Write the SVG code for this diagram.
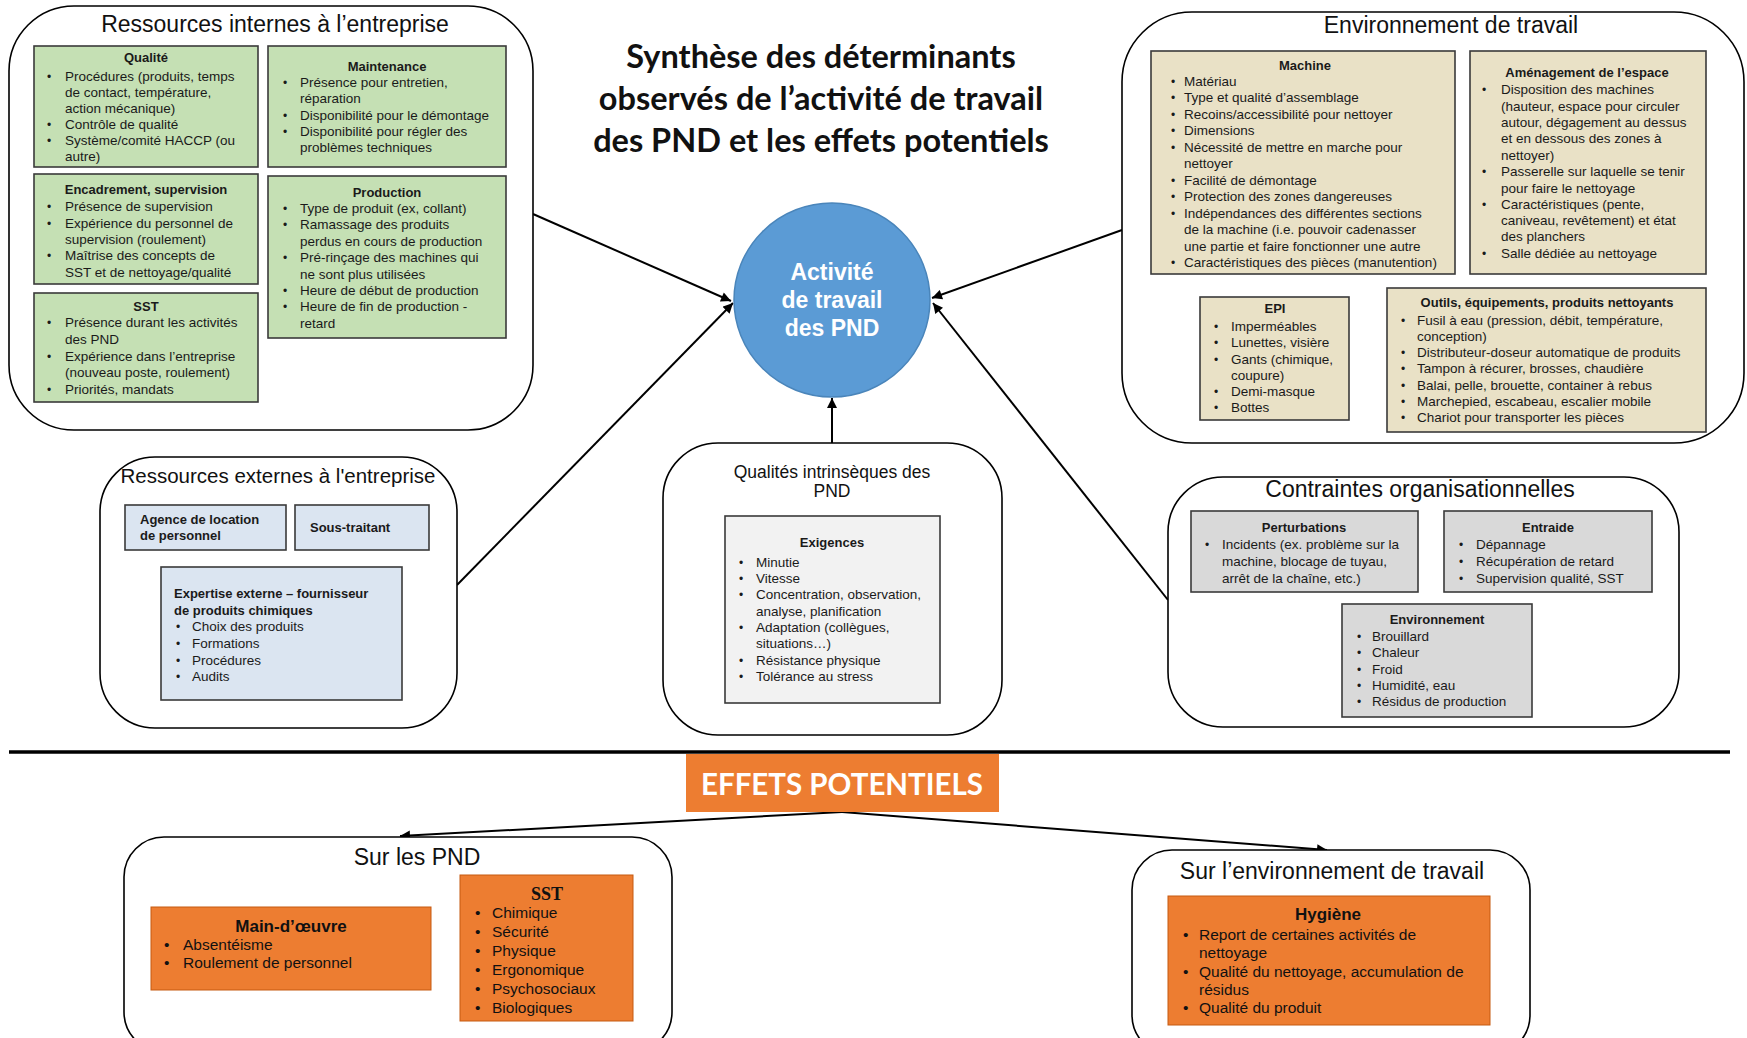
<svg xmlns="http://www.w3.org/2000/svg" width="1747" height="1038" viewBox="0 0 1747 1038">
<defs>
<marker id="ah" viewBox="0 0 10 10" refX="10" refY="5" markerWidth="11" markerHeight="10" markerUnits="userSpaceOnUse" orient="auto">
<path d="M0,0 L10,5 L0,10 z" fill="#000"/>
</marker>
<style>
text{font-family:"Liberation Sans",Arial,sans-serif;fill:#1a1a1a}
.o{fill:#fff;stroke:#000;stroke-width:1.6}
.g{fill:#c5e0b4;stroke:#3a3a3a;stroke-width:1.6}
.t{fill:#e9e1c6;stroke:#3a3a3a;stroke-width:1.6}
.b{fill:#dbe5f1;stroke:#3a3a3a;stroke-width:1.6}
.gr{fill:#d9d9d9;stroke:#3a3a3a;stroke-width:1.6}
.lg{fill:#f2f2f2;stroke:#3a3a3a;stroke-width:1.6}
.or{fill:#ed7d31;stroke:#c55a11;stroke-width:1}
.h{font-size:23px;text-anchor:middle;fill:#111}
.k{font-size:13px;font-weight:bold;text-anchor:middle}
.kl{font-size:13px;font-weight:bold}
.n{font-size:13.5px}
.u{font-size:12px}
.ot{font-size:17px;font-weight:bold;text-anchor:middle;fill:#111}
.on{font-size:15.5px;fill:#111}
.ti{font-family:Lato,"Open Sans",sans-serif;font-weight:bold;font-size:32.5px;text-anchor:middle;fill:#111}
.c{stroke:#000;stroke-width:2;fill:none;marker-end:url(#ah)}
</style>
</defs>

<g id="title">
<text class="ti" x="821" y="68">Synthèse des déterminants</text>
<text class="ti" x="821" y="110">observés de l’activité de travail</text>
<text class="ti" x="821" y="152">des PND et les effets potentiels</text>
</g>

<g id="connectors">
<line class="c" x1="533" y1="214" x2="731" y2="301"/>
<line class="c" x1="457" y1="585" x2="733" y2="303"/>
<line class="c" x1="832" y1="443" x2="832" y2="398"/>
<line class="c" x1="1122" y1="230" x2="932" y2="298"/>
<line class="c" x1="1168" y1="600" x2="933" y2="303"/>
<line class="c" x1="842" y1="812" x2="400" y2="836"/>
<line class="c" x1="842" y1="812" x2="1327" y2="850"/>
</g>

<g id="activite">
<ellipse cx="832" cy="300" rx="98" ry="97" fill="#5b9bd5" stroke="#4a85ba" stroke-width="1.5"/>
<text x="832" y="280" style="font-size:23px;font-weight:bold;fill:#fff;text-anchor:middle">Activité</text>
<text x="832" y="308" style="font-size:23px;font-weight:bold;fill:#fff;text-anchor:middle">de travail</text>
<text x="832" y="336" style="font-size:23px;font-weight:bold;fill:#fff;text-anchor:middle">des PND</text>
</g>

<g id="ressources-internes">
<rect class="o" x="9" y="6" width="524" height="424" rx="65"/>
<text class="h" x="275" y="32">Ressources internes à l’entreprise</text>
<g id="qualite">
<rect class="g" x="34" y="46" width="224" height="121"/>
<text class="k" x="146" y="62">Qualité</text>
<text class="u"><tspan x="47" y="81">•</tspan><tspan x="47" y="129">•</tspan><tspan x="47" y="145">•</tspan></text>
<text class="n"><tspan x="65" y="81">Procédures (produits, temps</tspan><tspan x="65" y="97">de contact, température,</tspan><tspan x="65" y="113">action mécanique)</tspan><tspan x="65" y="129">Contrôle de qualité</tspan><tspan x="65" y="145">Système/comité HACCP (ou</tspan><tspan x="65" y="161">autre)</tspan></text>
</g>
<g id="maintenance">
<rect class="g" x="268" y="46" width="238" height="121"/>
<text class="k" x="387" y="71">Maintenance</text>
<text class="u"><tspan x="283" y="87">•</tspan><tspan x="283" y="120">•</tspan><tspan x="283" y="136">•</tspan></text>
<text class="n"><tspan x="300" y="87">Présence pour entretien,</tspan><tspan x="300" y="103">réparation</tspan><tspan x="300" y="120">Disponibilité pour le démontage</tspan><tspan x="300" y="136">Disponibilité pour régler des</tspan><tspan x="300" y="152">problèmes techniques</tspan></text>
</g>
<g id="encadrement">
<rect class="g" x="34" y="174" width="224" height="110"/>
<text class="k" x="146" y="194">Encadrement, supervision</text>
<text class="u"><tspan x="47" y="211">•</tspan><tspan x="47" y="228">•</tspan><tspan x="47" y="260">•</tspan></text>
<text class="n"><tspan x="65" y="211">Présence de supervision</tspan><tspan x="65" y="228">Expérience du personnel de</tspan><tspan x="65" y="244">supervision (roulement)</tspan><tspan x="65" y="260">Maîtrise des concepts de</tspan><tspan x="65" y="277">SST et de nettoyage/qualité</tspan></text>
</g>
<g id="production">
<rect class="g" x="268" y="176" width="238" height="162"/>
<text class="k" x="387" y="197">Production</text>
<text class="u"><tspan x="283" y="213">•</tspan><tspan x="283" y="229">•</tspan><tspan x="283" y="262">•</tspan><tspan x="283" y="295">•</tspan><tspan x="283" y="311">•</tspan></text>
<text class="n"><tspan x="300" y="213">Type de produit (ex, collant)</tspan><tspan x="300" y="229">Ramassage des produits</tspan><tspan x="300" y="246">perdus en cours de production</tspan><tspan x="300" y="262">Pré-rinçage des machines qui</tspan><tspan x="300" y="279">ne sont plus utilisées</tspan><tspan x="300" y="295">Heure de début de production</tspan><tspan x="300" y="311">Heure de fin de production -</tspan><tspan x="300" y="328">retard</tspan></text>
</g>
<g id="sst-interne">
<rect class="g" x="34" y="293" width="224" height="109"/>
<text class="k" x="146" y="311">SST</text>
<text class="u"><tspan x="47" y="327">•</tspan><tspan x="47" y="361">•</tspan><tspan x="47" y="394">•</tspan></text>
<text class="n"><tspan x="65" y="327">Présence durant les activités</tspan><tspan x="65" y="344">des PND</tspan><tspan x="65" y="361">Expérience dans l’entreprise</tspan><tspan x="65" y="377">(nouveau poste, roulement)</tspan><tspan x="65" y="394">Priorités, mandats</tspan></text>
</g>
</g>

<g id="environnement-travail">
<rect class="o" x="1122" y="12" width="622" height="431" rx="70"/>
<text class="h" x="1451" y="33">Environnement de travail</text>
<g id="machine">
<rect class="t" x="1151" y="51" width="304" height="223"/>
<text class="k" x="1305" y="70">Machine</text>
<text class="u"><tspan x="1171" y="85.5">•</tspan><tspan x="1171" y="102">•</tspan><tspan x="1171" y="118.5">•</tspan><tspan x="1171" y="135">•</tspan><tspan x="1171" y="151.5">•</tspan><tspan x="1171" y="184.5">•</tspan><tspan x="1171" y="201">•</tspan><tspan x="1171" y="217.5">•</tspan><tspan x="1171" y="267">•</tspan></text>
<text class="n"><tspan x="1184" y="85.5">Matériau</tspan><tspan x="1184" y="102">Type et qualité d’assemblage</tspan><tspan x="1184" y="118.5">Recoins/accessibilité pour nettoyer</tspan><tspan x="1184" y="135">Dimensions</tspan><tspan x="1184" y="151.5">Nécessité de mettre en marche pour</tspan><tspan x="1184" y="168">nettoyer</tspan><tspan x="1184" y="184.5">Facilité de démontage</tspan><tspan x="1184" y="201">Protection des zones dangereuses</tspan><tspan x="1184" y="217.5">Indépendances des différentes sections</tspan><tspan x="1184" y="234">de la machine (i.e. pouvoir cadenasser</tspan><tspan x="1184" y="250.5">une partie et faire fonctionner une autre</tspan><tspan x="1184" y="267">Caractéristiques des pièces (manutention)</tspan></text>
</g>
<g id="amenagement">
<rect class="t" x="1470" y="51" width="236" height="223"/>
<text class="k" x="1587" y="77">Aménagement de l’espace</text>
<text class="u"><tspan x="1482" y="94">•</tspan><tspan x="1482" y="176">•</tspan><tspan x="1482" y="209">•</tspan><tspan x="1482" y="258">•</tspan></text>
<text class="n"><tspan x="1501" y="94">Disposition des machines</tspan><tspan x="1501" y="111">(hauteur, espace pour circuler</tspan><tspan x="1501" y="127">autour, dégagement au dessus</tspan><tspan x="1501" y="143">et en dessous des zones à</tspan><tspan x="1501" y="160">nettoyer)</tspan><tspan x="1501" y="176">Passerelle sur laquelle se tenir</tspan><tspan x="1501" y="193">pour faire le nettoyage</tspan><tspan x="1501" y="209">Caractéristiques (pente,</tspan><tspan x="1501" y="225">caniveau, revêtement) et état</tspan><tspan x="1501" y="241">des planchers</tspan><tspan x="1501" y="258">Salle dédiée au nettoyage</tspan></text>
</g>
<g id="epi">
<rect class="t" x="1200" y="297" width="149" height="123"/>
<text class="k" x="1275" y="313">EPI</text>
<text class="u"><tspan x="1214" y="331">•</tspan><tspan x="1214" y="347">•</tspan><tspan x="1214" y="364">•</tspan><tspan x="1214" y="396">•</tspan><tspan x="1214" y="412">•</tspan></text>
<text class="n"><tspan x="1231" y="331">Imperméables</tspan><tspan x="1231" y="347">Lunettes, visière</tspan><tspan x="1231" y="364">Gants (chimique,</tspan><tspan x="1231" y="380">coupure)</tspan><tspan x="1231" y="396">Demi-masque</tspan><tspan x="1231" y="412">Bottes</tspan></text>
</g>
<g id="outils">
<rect class="t" x="1387" y="288" width="319" height="144"/>
<text class="k" x="1547" y="307">Outils, équipements, produits nettoyants</text>
<text class="u"><tspan x="1401" y="324.5">•</tspan><tspan x="1401" y="357">•</tspan><tspan x="1401" y="373">•</tspan><tspan x="1401" y="389.5">•</tspan><tspan x="1401" y="406">•</tspan><tspan x="1401" y="422">•</tspan></text>
<text class="n"><tspan x="1417" y="324.5">Fusil à eau (pression, débit, température,</tspan><tspan x="1417" y="341">conception)</tspan><tspan x="1417" y="357">Distributeur-doseur automatique de produits</tspan><tspan x="1417" y="373">Tampon à récurer, brosses, chaudière</tspan><tspan x="1417" y="389.5">Balai, pelle, brouette, container à rebus</tspan><tspan x="1417" y="406">Marchepied, escabeau, escalier mobile</tspan><tspan x="1417" y="422">Chariot pour transporter les pièces</tspan></text>
</g>
</g>

<g id="ressources-externes">
<rect class="o" x="100" y="457" width="357" height="271" rx="55"/>
<text class="h" x="278" y="483" style="font-size:20.5px">Ressources externes à l'entreprise</text>
<g id="agence">
<rect class="b" x="125" y="505" width="161" height="45"/>
<text class="kl"><tspan x="140" y="524">Agence de location</tspan><tspan x="140" y="540">de personnel</tspan></text>
</g>
<g id="sous-traitant">
<rect class="b" x="295" y="505" width="134" height="45"/>
<text class="kl" x="310" y="532">Sous-traitant</text>
</g>
<g id="expertise">
<rect class="b" x="161" y="567" width="241" height="133"/>
<text class="kl"><tspan x="174" y="598">Expertise externe – fournisseur</tspan><tspan x="174" y="615">de produits chimiques</tspan></text>
<text class="u"><tspan x="176" y="631">•</tspan><tspan x="176" y="647.5">•</tspan><tspan x="176" y="664.5">•</tspan><tspan x="176" y="681">•</tspan></text>
<text class="n"><tspan x="192" y="631">Choix des produits</tspan><tspan x="192" y="647.5">Formations</tspan><tspan x="192" y="664.5">Procédures</tspan><tspan x="192" y="681">Audits</tspan></text>
</g>
</g>

<g id="qualites-intrinseques">
<rect class="o" x="663" y="443" width="339" height="292" rx="55"/>
<text class="h" x="832" y="478" style="font-size:17.5px">Qualités intrinsèques des</text>
<text class="h" x="832" y="497" style="font-size:17.5px">PND</text>
<g id="exigences">
<rect class="lg" x="725" y="516" width="215" height="187"/>
<text class="k" x="832" y="547">Exigences</text>
<text class="u"><tspan x="739" y="566.5">•</tspan><tspan x="739" y="582.5">•</tspan><tspan x="739" y="599">•</tspan><tspan x="739" y="631.5">•</tspan><tspan x="739" y="665">•</tspan><tspan x="739" y="681">•</tspan></text>
<text class="n"><tspan x="756" y="566.5">Minutie</tspan><tspan x="756" y="582.5">Vitesse</tspan><tspan x="756" y="599">Concentration, observation,</tspan><tspan x="756" y="615.5">analyse, planification</tspan><tspan x="756" y="631.5">Adaptation (collègues,</tspan><tspan x="756" y="648">situations…)</tspan><tspan x="756" y="665">Résistance physique</tspan><tspan x="756" y="681">Tolérance au stress</tspan></text>
</g>
</g>

<g id="contraintes">
<rect class="o" x="1168" y="477" width="511" height="250" rx="55"/>
<text class="h" x="1420" y="497">Contraintes organisationnelles</text>
<g id="perturbations">
<rect class="gr" x="1191" y="511" width="227" height="81"/>
<text class="k" x="1304" y="532">Perturbations</text>
<text class="u"><tspan x="1205" y="549">•</tspan></text>
<text class="n"><tspan x="1222" y="549">Incidents (ex. problème sur la</tspan><tspan x="1222" y="565.5">machine, blocage de tuyau,</tspan><tspan x="1222" y="583">arrêt de la chaîne, etc.)</tspan></text>
</g>
<g id="entraide">
<rect class="gr" x="1444" y="511" width="208" height="81"/>
<text class="k" x="1548" y="532">Entraide</text>
<text class="u"><tspan x="1459" y="549">•</tspan><tspan x="1459" y="565.5">•</tspan><tspan x="1459" y="583">•</tspan></text>
<text class="n"><tspan x="1476" y="549">Dépannage</tspan><tspan x="1476" y="565.5">Récupération de retard</tspan><tspan x="1476" y="583">Supervision qualité, SST</tspan></text>
</g>
<g id="environnement">
<rect class="gr" x="1342" y="604" width="190" height="113"/>
<text class="k" x="1437" y="624">Environnement</text>
<text class="u"><tspan x="1357" y="640.5">•</tspan><tspan x="1357" y="657">•</tspan><tspan x="1357" y="674">•</tspan><tspan x="1357" y="690">•</tspan><tspan x="1357" y="706">•</tspan></text>
<text class="n"><tspan x="1372" y="640.5">Brouillard</tspan><tspan x="1372" y="657">Chaleur</tspan><tspan x="1372" y="674">Froid</tspan><tspan x="1372" y="690">Humidité, eau</tspan><tspan x="1372" y="706">Résidus de production</tspan></text>
</g>
</g>

<line x1="9" y1="752" x2="1730" y2="752" stroke="#000" stroke-width="3.5"/>

<g id="effets-potentiels">
<rect x="686" y="754" width="313" height="58" fill="#ed7d31"/>
<text x="842" y="795" style="font-family:Lato,'Open Sans',sans-serif;font-weight:bold;font-size:29.5px;fill:#fff;text-anchor:middle">EFFETS POTENTIELS</text>
</g>

<g id="sur-les-pnd">
<rect class="o" x="124" y="837" width="548" height="215" rx="40"/>
<text class="h" x="417" y="865">Sur les PND</text>
<g id="main-oeuvre">
<rect class="or" x="151" y="907" width="280" height="83"/>
<text class="ot" x="291" y="932">Main-d’œuvre</text>
<text class="on"><tspan x="164" y="950">•</tspan><tspan x="183" y="950">Absentéisme</tspan><tspan x="164" y="968">•</tspan><tspan x="183" y="968">Roulement de personnel</tspan></text>
</g>
<g id="sst-effets">
<rect class="or" x="460" y="875" width="173" height="146"/>
<text class="ot" x="547" y="900" style="font-family:'Liberation Serif',serif;font-size:18px">SST</text>
<text class="on"><tspan x="475" y="918">•</tspan><tspan x="492" y="918">Chimique</tspan><tspan x="475" y="937">•</tspan><tspan x="492" y="937">Sécurité</tspan><tspan x="475" y="956">•</tspan><tspan x="492" y="956">Physique</tspan><tspan x="475" y="975">•</tspan><tspan x="492" y="975">Ergonomique</tspan><tspan x="475" y="994">•</tspan><tspan x="492" y="994">Psychosociaux</tspan><tspan x="475" y="1013">•</tspan><tspan x="492" y="1013">Biologiques</tspan></text>
</g>
</g>

<g id="sur-environnement">
<rect class="o" x="1132" y="850" width="398" height="205" rx="40"/>
<text class="h" x="1332" y="879">Sur l’environnement de travail</text>
<g id="hygiene">
<rect class="or" x="1168" y="896" width="322" height="129"/>
<text class="ot" x="1328" y="920">Hygiène</text>
<text class="on"><tspan x="1183" y="940">•</tspan><tspan x="1199" y="940">Report de certaines activités de</tspan><tspan x="1199" y="958">nettoyage</tspan><tspan x="1183" y="977">•</tspan><tspan x="1199" y="977">Qualité du nettoyage, accumulation de</tspan><tspan x="1199" y="995">résidus</tspan><tspan x="1183" y="1013">•</tspan><tspan x="1199" y="1013">Qualité du produit</tspan></text>
</g>
</g>
</svg>
